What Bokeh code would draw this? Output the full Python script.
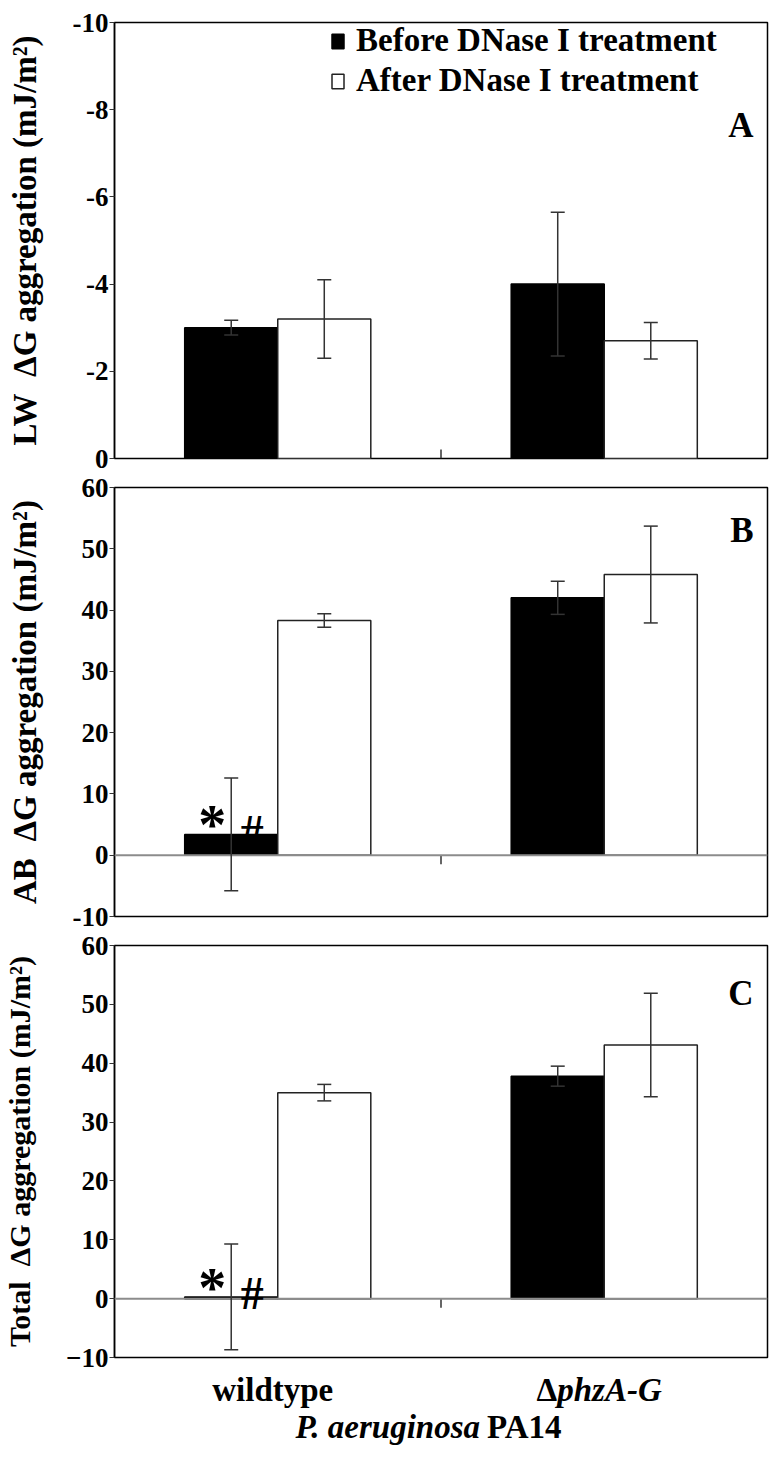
from bokeh.plotting import figure
from bokeh.layouts import column
from bokeh.models import (ColumnDataSource, FactorRange, Range1d, FixedTicker, Whisker,
                          TeeHead, Span, Label, Legend, LegendItem)
from bokeh.transform import dodge
from bokeh.embed import file_html
from bokeh.resources import INLINE

# ---------------- data ----------------
strains = ["wildtype", "ΔphzA-G"]
series = ["Before DNase I treatment", "After DNase I treatment"]

lw_before = [-3.0, -4.0]
lw_before_err = [0.17, 1.65]
lw_after = [-3.2, -2.7]
lw_after_err = [0.9, 0.42]

ab_before = [3.4, 42.0]
ab_before_err = [9.2, 2.7]
ab_after = [38.3, 45.8]
ab_after_err = [1.1, 7.9]

tot_before = [0.3, 37.8]
tot_before_err = [9.0, 1.7]
tot_after = [35.0, 43.1]
tot_after_err = [1.4, 8.8]

lw_ticks = [0, -2, -4, -6, -8, -10]
lw_tick_labels = ["0", "-2", "-4", "-6", "-8", "-10"]
ab_ticks = [-10, 0, 10, 20, 30, 40, 50, 60]
ab_tick_labels = ["-10", "0", "10", "20", "30", "40", "50", "60"]
tot_ticks = [-10, 0, 10, 20, 30, 40, 50, 60]
tot_tick_labels = ["\u221210", "0", "10", "20", "30", "40", "50", "60"]

sig_marks = ["*", "#"]
x_title_italic = "P. aeruginosa"
x_title_plain = "PA14"

# ---------------- style ----------------
FONT = "Liberation Serif"
FRAME_W = 653
BAR_W = 0.285
OFF = 0.1425
ERR_COLOR = "#333333"
MARK_STYLE = {"*": dict(size="56px", dx=-19, dy=9), "#": dict(size="46px", dx=21, dy=3)}


def make_panel(letter, ylabel, ylab_size, before, before_err, after, after_err,
               yr, ticks, tick_labels, frame_h, b_top, b_bottom, letter_y,
               zero_line, marks=None, legend=False):
    p = figure(x_range=FactorRange(*strains), y_range=Range1d(*yr),
               frame_width=FRAME_W, frame_height=frame_h,
               min_border_left=105, min_border_right=8,
               min_border_top=b_top, min_border_bottom=b_bottom,
               output_backend="svg", toolbar_location=None)
    p.background_fill_color = "white"
    p.border_fill_color = "white"
    p.outline_line_color = "black"
    p.outline_line_width = 1.5
    p.xgrid.visible = False
    p.ygrid.visible = False
    p.xaxis.visible = False

    ax = p.yaxis[0]
    ax.ticker = FixedTicker(ticks=ticks)
    ax.major_label_overrides = dict(zip(ticks, tick_labels))
    ax.major_label_text_font = FONT
    ax.major_label_text_font_style = "bold"
    ax.major_label_text_font_size = "27px"
    ax.major_label_text_color = "black"
    ax.major_label_standoff = 1
    ax.major_tick_in = 0
    ax.major_tick_out = 5
    ax.minor_tick_line_color = None
    ax.axis_line_color = "black"
    ax.axis_line_width = 1.5
    ax.major_tick_line_color = "#333333"
    ax.axis_label = ylabel
    ax.axis_label_text_font = FONT
    ax.axis_label_text_font_style = "bold"
    ax.axis_label_text_font_size = ylab_size
    ax.axis_label_text_color = "black"
    ax.axis_label_standoff = 27

    src = ColumnDataSource(dict(
        x=strains, before=before, after=after,
        b_lo=[v - e for v, e in zip(before, before_err)],
        b_hi=[v + e for v, e in zip(before, before_err)],
        a_lo=[v - e for v, e in zip(after, after_err)],
        a_hi=[v + e for v, e in zip(after, after_err)],
    ))

    r_b = p.vbar(x=dodge("x", -OFF, range=p.x_range), top="before", bottom=0, width=BAR_W,
                 source=src, fill_color="black", line_color="black", line_width=1.5)
    r_a = p.vbar(x=dodge("x", OFF, range=p.x_range), top="after", bottom=0, width=BAR_W,
                 source=src, fill_color="white", line_color="#222222", line_width=1.5)

    for off, lo, hi in [(-OFF, "b_lo", "b_hi"), (OFF, "a_lo", "a_hi")]:
        w = Whisker(base=dodge("x", off, range=p.x_range), lower=lo, upper=hi, source=src,
                    line_color=ERR_COLOR, line_width=1.5, level="overlay",
                    upper_head=TeeHead(size=14, line_color=ERR_COLOR, line_width=1.5),
                    lower_head=TeeHead(size=14, line_color=ERR_COLOR, line_width=1.5))
        p.add_layout(w)

    if zero_line:
        p.add_layout(Span(location=0, dimension="width", line_color="#8c8c8c", line_width=2))

    # small tick at the boundary between the two categories
    tick_len = 9 * (yr[1] - yr[0]) / frame_h
    tsrc = ColumnDataSource(dict(x=strains[:1]))
    y1 = -tick_len if zero_line else tick_len
    p.segment(x0=dodge("x", 0.5, range=p.x_range), x1=dodge("x", 0.5, range=p.x_range),
              y0=0, y1=y1, source=tsrc, line_color="#333333", line_width=1.5)

    p.add_layout(Label(x=FRAME_W - 14, y=letter_y, x_units="screen", y_units="screen",
                       text=letter, text_align="right", text_baseline="alphabetic",
                       text_font=FONT, text_font_style="bold", text_font_size="35px",
                       text_color="black"))

    if marks:
        xc = 0 + 0.5 - OFF
        for m in marks:
            st = MARK_STYLE[m]
            p.add_layout(Label(x=xc, y=before[0], x_offset=st["dx"], y_offset=st["dy"], text=m,
                               text_align="center", text_baseline="alphabetic",
                               text_font=FONT, text_font_style="bold",
                               text_font_size=st["size"], text_color="black"))

    if legend:
        lg = Legend(items=[LegendItem(label=series[0], renderers=[r_b]),
                           LegendItem(label=series[1], renderers=[r_a])],
                    location=(216, 359))
        lg.label_text_font = FONT
        lg.label_text_font_style = "bold"
        lg.label_text_font_size = "33px"
        lg.label_text_color = "black"
        lg.glyph_width = 15
        lg.glyph_height = 18
        lg.label_standoff = 11
        lg.spacing = 3
        lg.padding = 0
        lg.margin = 0
        lg.border_line_alpha = 0
        lg.background_fill_alpha = 0
        p.add_layout(lg)
    return p


pA = make_panel("A", "LW\u2002\u0394G aggregation (mJ/m\u00b2)", "33px",
                lw_before, lw_before_err, lw_after, lw_after_err,
                (0, -10), lw_ticks, lw_tick_labels, 436, 22, 15, 333,
                zero_line=False, legend=True)
pB = make_panel("B", "AB\u2002\u0394G aggregation (mJ/m\u00b2)", "33px",
                ab_before, ab_before_err, ab_after, ab_after_err,
                (-10, 60), ab_ticks, ab_tick_labels, 429, 14, 15, 386,
                zero_line=True, marks=sig_marks)
pC = make_panel("C", "Total\u2002\u0394G aggregation (mJ/m\u00b2)", "30px",
                tot_before, tot_before_err, tot_after, tot_after_err,
                (-10, 60), tot_ticks, tot_tick_labels, 412, 14, 15, 364,
                zero_line=True, marks=sig_marks)

# strip below panel C holding the category labels and the x title
pX = figure(x_range=pC.x_range, y_range=Range1d(0, 1), frame_width=FRAME_W, frame_height=84,
            min_border_left=105, min_border_right=8, min_border_top=0, min_border_bottom=0,
            output_backend="svg", toolbar_location=None)
pX.outline_line_color = None
pX.axis.visible = False
pX.grid.visible = False
pX.background_fill_color = "white"
pX.border_fill_color = "white"

lab_kw = dict(y_units="screen", text_font=FONT, text_font_style="bold",
              text_font_size="33px", text_color="black", text_baseline="middle")
lab_it = dict(lab_kw)
lab_it["text_font_style"] = "bold italic"
pX.add_layout(Label(x=0.5, y=67, text=strains[0], text_align="center", x_offset=-5, **lab_kw))
pX.add_layout(Label(x=1.5, y=67, text=strains[1][0], text_align="right", x_offset=-47, **lab_kw))
pX.add_layout(Label(x=1.5, y=67, text=strains[1][1:], text_align="left", x_offset=-47, **lab_it))
pX.add_layout(Label(x=1.0, y=30, text=x_title_italic, text_align="right", x_offset=39, **lab_it))
pX.add_layout(Label(x=1.0, y=30, text=x_title_plain, text_align="left", x_offset=46, **lab_kw))

layout = column(pA, pB, pC, pX, spacing=0)
open("out.html", "w").write(file_html(layout, INLINE))
